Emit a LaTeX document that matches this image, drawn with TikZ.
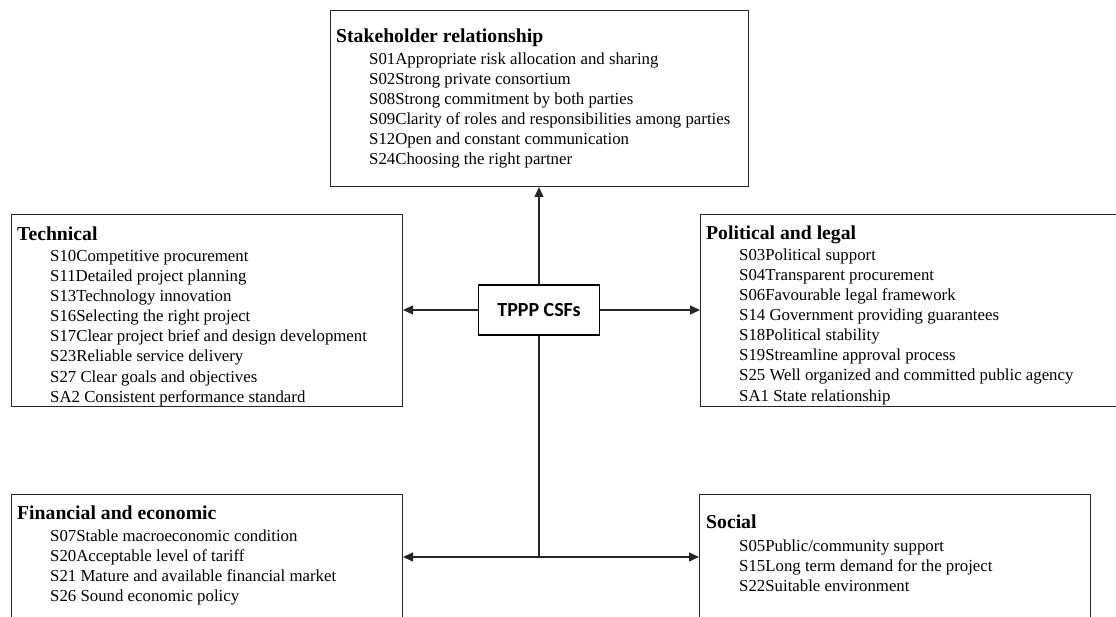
\documentclass[tikz,border=0pt]{standalone}
\usepackage{fontspec}
\setmainfont{Liberation Serif}
\newfontfamily\carlito{Carlito}
\usetikzlibrary{arrows.meta}
\begin{document}
\begin{tikzpicture}[x=1pt,y=-1pt,
  box/.style={draw=black!85, line width=1pt, rectangle, inner sep=0pt},
  hub/.style={draw=black, line width=1.1pt, rectangle, inner sep=0pt,
    minimum width=121pt, minimum height=50pt,
    font=\carlito\bfseries\fontsize{20}{22}\selectfont},
  title/.style={anchor=base west, inner sep=0pt, font=\bfseries\fontsize{19.7}{22}\selectfont},
  item/.style={anchor=base west, inner sep=0pt, font=\fontsize{16.8}{20}\selectfont},
  link/.style={line width=1.3pt, black!85},
  arr/.style={link, -{Triangle[length=10pt,width=9pt]}}]
\useasboundingbox (0,0) rectangle (1116,617);
\clip (0,0) rectangle (1116,617);

% category boxes
\node[box, anchor=north west, minimum width=418pt, minimum height=176pt] (stake) at (330,10) {};
\node[box, anchor=north west, minimum width=391pt, minimum height=192pt] (tech) at (11,214) {};
\node[box, anchor=north west, minimum width=420pt, minimum height=192pt] (pol) at (700,214) {};
\node[box, anchor=north west, minimum width=391pt, minimum height=140pt] (fin) at (11,494) {};
\node[box, anchor=north west, minimum width=391pt, minimum height=140pt] (soc) at (699,494) {};

% central node
\node[hub] (csf) at (539,310) {TPPP CSFs};

% connectors
\coordinate (junc) at (539,557);
\draw[arr] (csf.north) -- (csf.north |- stake.south);
\draw[arr] (csf.west) -- (csf.west -| tech.east);
\draw[arr] (csf.east) -- (csf.east -| pol.west);
\draw[link] (csf.south) -- (junc);
\draw[arr] (junc) -- (junc -| fin.east);
\draw[arr] (junc) -- (junc -| soc.west);

% Stakeholder relationship
\node[title] (stake-t) at (336,43) {Stakeholder relationship};
\foreach \t [count=\i from 0] in {S01Appropriate risk allocation and sharing,
  S02Strong private consortium, S08Strong commitment by both parties,
  S09Clarity of roles and responsibilities among parties,
  S12Open and constant communication, S24Choosing the right partner}
  \node[item] (stake-\i) at (369,{65+20*\i}) {\t};

% Technical
\node[title] (tech-t) at (17,241) {Technical};
\foreach \t [count=\i from 0] in {S10Competitive procurement,
  S11Detailed project planning, S13Technology innovation,
  S16Selecting the right project, S17Clear project brief and design development,
  S23Reliable service delivery, S27 Clear goals and objectives,
  SA2 Consistent performance standard}
  \node[item] (tech-\i) at (50,{262+20*\i}) {\t};

% Political and legal
\node[title] (pol-t) at (706,240) {Political and legal};
\foreach \t [count=\i from 0] in {S03Political support,
  S04Transparent procurement, S06Favourable legal framework,
  S14 Government providing guarantees, S18Political stability,
  S19Streamline approval process, S25 Well organized and committed public agency,
  SA1 State relationship}
  \node[item] (pol-\i) at (739,{261+20*\i}) {\t};

% Financial and economic
\node[title] (fin-t) at (17,519) {Financial and economic};
\foreach \t [count=\i from 0] in {S07Stable macroeconomic condition,
  S20Acceptable level of tariff, S21 Mature and available financial market,
  S26 Sound economic policy}
  \node[item] (fin-\i) at (50,{541+20*\i}) {\t};

% Social
\node[title] (soc-t) at (706,528) {Social};
\foreach \t [count=\i from 0] in {S05Public/community support,
  S15Long term demand for the project, S22Suitable environment}
  \node[item] (soc-\i) at (739,{551+20*\i}) {\t};
\end{tikzpicture}
\end{document}
